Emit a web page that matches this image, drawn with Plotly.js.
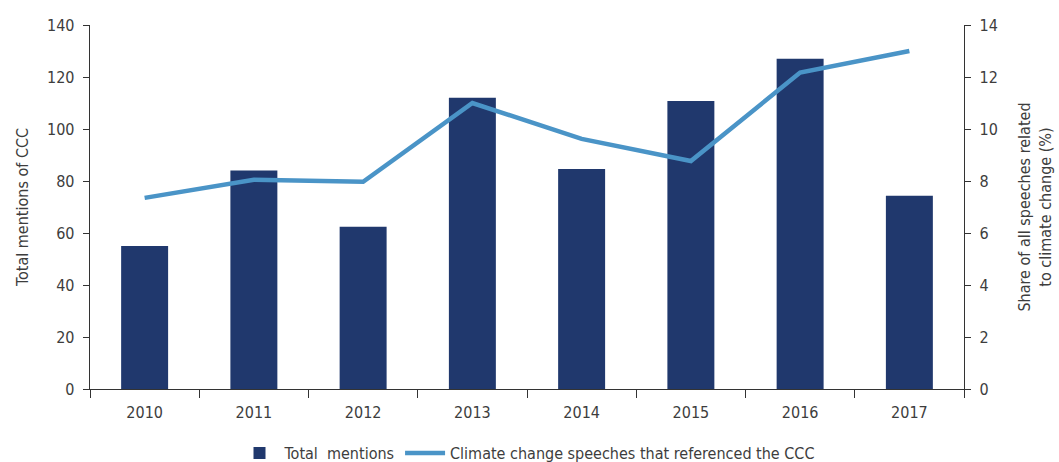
<!DOCTYPE html>
<html>
<head>
<meta charset="utf-8">
<script src="https://cdn.plot.ly/plotly-3.0.1.min.js"></script>
<style>
  html, body { margin: 0; padding: 0; background: #fff; }
  #chart { width: 1059px; height: 462px; }
</style>
</head>
<body>
<div id="chart"></div>
<script>
const years = ["2010", "2011", "2012", "2013", "2014", "2015", "2016", "2017"];
const totalMentions = [55, 84, 62.4, 112, 84.6, 110.8, 127, 74.3];
const shareSpeeches = [7.35, 8.05, 7.97, 11.0, 9.62, 8.77, 12.17, 13.0];

const fontFam = "'DejaVu Sans Condensed', 'Liberation Sans Narrow', sans-serif";
const textCol = "#3d3d3d";

const trazas = [
    {
        x: years, y: totalMentions, type: "bar", name: "Total\u00a0 mentions",
        marker: { color: "#20386d" }, width: 0.43
    },
    {
        x: years, y: shareSpeeches, type: "scatter", mode: "lines", yaxis: "y2",
        name: "Climate change speeches that referenced the CCC",
        line: { color: "#4a94c7", width: 4.5 }
    }
];

const layout = {
    width: 1059, height: 462,
    margin: { l: 90, r: 95, t: 25, b: 73, autoexpand: false },
    paper_bgcolor: "#fff", plot_bgcolor: "#fff",
    font: { family: fontFam, size: 16, color: textCol },
    showlegend: true,
    legend: {
        orientation: "h", x: 0.5, xanchor: "center", y: -0.176, yanchor: "middle",
        font: { size: 16, color: textCol }, itemwidth: 40, tracegroupgap: 0
    },
    xaxis: {
        type: "category", showline: true, linecolor: "#333", linewidth: 1.3,
        ticks: "outside", tickson: "boundaries", ticklen: 8, tickcolor: "#333",
        ticklabelstandoff: 8, showgrid: false, zeroline: false
    },
    yaxis: {
        range: [0, 140], dtick: 20, showline: true, linecolor: "#333", linewidth: 1.3,
        ticks: "outside", ticklen: 6, tickcolor: "#333", ticklabelstandoff: 5,
        showgrid: false, zeroline: false,
        title: { text: "Total mentions of CCC", font: { size: 16 }, standoff: 14 }
    },
    yaxis2: {
        range: [0, 14], dtick: 2, overlaying: "y", side: "right",
        showline: true, linecolor: "#333", linewidth: 1.3,
        ticks: "outside", ticklen: 6, tickcolor: "#333", ticklabelstandoff: 5,
        showgrid: false, zeroline: false,
        title: { text: "Share of all speeches related<br>to climate change (%)", font: { size: 16 }, standoff: 22 }
    }
};

Plotly.newPlot("chart", trazas, layout, { staticPlot: true, displayModeBar: false });
</script>
</body>
</html>
